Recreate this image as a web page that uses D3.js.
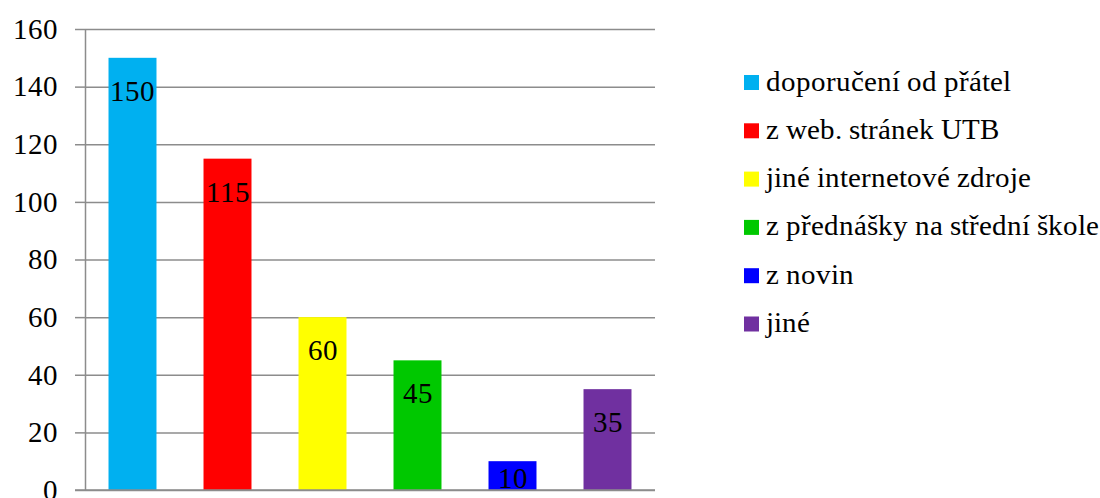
<!DOCTYPE html>
<html>
<head>
    <meta charset="UTF-8">
    <title>Zdroje informaci</title>
    <script src="https://d3js.org/d3.v7.min.js"></script>
    <style>
        @font-face {
            font-family: "ChartSerif";
            src: local("Liberation Serif"), local("LiberationSerif"), local("LiberationSerif-Regular"),
                 local("Tinos"), local("Times New Roman");
        }
        body { margin: 0; }
        #chart text { font-family: "ChartSerif", "Liberation Serif", "Times New Roman", serif; }
    </style>
</head>
<body>
<svg id="chart" width="1100" height="498"></svg>
<script>
    // data
    var categories = ["doporučení od přátel", "z web. stránek UTB", "jiné internetové zdroje",
        "z přednášky na střední škole", "z novin", "jiné"];
    var values = [150, 115, 60, 45, 10, 35];
    var colors = ["#00b0f0", "#ff0000", "#ffff00", "#00c800", "#0000ff", "#7030a0"];
    var yTicks = [0, 20, 40, 60, 80, 100, 120, 140, 160];

    var svg = d3.select("#chart");
    var plotLeft = 85, plotRight = 655, plotTop = 29, plotBottom = 490;
    var fontSize = 29;
    var gridColor = "#8c8c8c";

    var x = d3.scaleBand()
            .domain(categories)
            .range([plotLeft, plotRight])
            .paddingInner(0.495)
            .paddingOuter(0.2475);

    var y = d3.scaleLinear()
            .domain([0, 160])
            .range([plotBottom, plotTop]);

    // gridlines
    var grid = svg.append("g")
            .attr("transform", "translate(" + plotLeft + ",0)")
            .call(d3.axisLeft(y).tickValues(yTicks).tickSize(-(plotRight - plotLeft)).tickFormat(""));
    grid.select(".domain").remove();
    grid.selectAll("line").attr("stroke", gridColor).attr("stroke-width", 1.5);

    // y axis
    var yAxis = svg.append("g")
            .attr("transform", "translate(" + plotLeft + ",0)")
            .call(d3.axisLeft(y).tickValues(yTicks).tickSize(10).tickPadding(17).tickSizeOuter(0));
    yAxis.attr("font-size", fontSize);
    yAxis.selectAll("line, path").attr("stroke", gridColor).attr("stroke-width", 1.5);
    yAxis.selectAll("text").attr("fill", "#000");

    // bars
    svg.append("g")
            .selectAll("rect")
            .data(values)
            .enter().append("rect")
            .attr("x", function (d, i) { return x(categories[i]); })
            .attr("y", function (d) { return y(d); })
            .attr("width", x.bandwidth())
            .attr("height", function (d) { return y(0) - y(d); })
            .attr("fill", function (d, i) { return colors[i]; });

    // x axis line
    svg.append("line")
            .attr("x1", plotLeft - 10).attr("x2", plotRight)
            .attr("y1", plotBottom).attr("y2", plotBottom)
            .attr("stroke", gridColor).attr("stroke-width", 1.5);

    // value labels
    svg.append("g")
            .selectAll("text")
            .data(values)
            .enter().append("text")
            .attr("x", function (d, i) { return x(categories[i]) + x.bandwidth() / 2; })
            .attr("y", function (d) { return Math.min(y(d) + 43, plotBottom - 2); })
            .attr("text-anchor", "middle")
            .attr("font-size", fontSize)
            .text(function (d) { return d; });

    // legend
    var legend = svg.append("g")
            .attr("transform", "translate(744,75)")
            .selectAll("g")
            .data(categories)
            .enter().append("g")
            .attr("transform", function (d, i) { return "translate(0," + (i * 48.3) + ")"; });

    legend.append("rect")
            .attr("width", 15)
            .attr("height", 15)
            .attr("fill", function (d, i) { return colors[i]; });

    legend.append("text")
            .attr("x", 22)
            .attr("y", 15.5)
            .attr("font-size", fontSize)
            .text(function (d) { return d; });
</script>
</body>
</html>
